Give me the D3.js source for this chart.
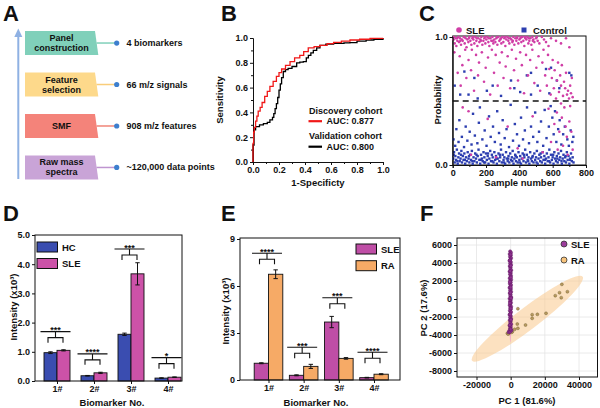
<!DOCTYPE html>
<html><head><meta charset="utf-8">
<script src="https://cdn.jsdelivr.net/npm/d3@7"></script>
<style>
body{margin:0;background:#fff}
svg{display:block;font-family:"Liberation Sans",Arial,Helvetica,sans-serif;font-weight:bold}
</style>
</head><body>
<svg id="c" width="600" height="408"></svg>
<script>
// ---------------- DATA ----------------
// Panel A
const flowLines = [["Panel","construction"],["Feature","selection"],["SMF"],["Raw mass","spectra"]];
const flowResults = ["4 biomarkers","66 m/z signals","908 m/z features","~120,000 data points"];

// Panel B (ROC curves)
const rocDiscFpr = [0,0,0.005,0.01,0.02,0.03,0.04,0.055,0.07,0.09,0.11,0.13,0.155,0.18,0.2,0.22,0.25,0.285,0.32,0.36,0.39,0.425,0.47,0.515,0.57,0.62,0.68,0.746,0.82,0.9,1];
const rocDiscTpr = [0,0.15,0.24,0.28,0.33,0.37,0.41,0.44,0.48,0.53,0.57,0.61,0.65,0.69,0.72,0.75,0.78,0.81,0.84,0.86,0.89,0.92,0.93,0.94,0.955,0.965,0.975,0.984,0.99,0.997,1];
const rocValFpr = [0,0,0.008,0.02,0.05,0.08,0.11,0.13,0.15,0.16,0.17,0.18,0.19,0.2,0.21,0.22,0.233,0.25,0.27,0.3,0.336,0.36,0.387,0.41,0.426,0.445,0.464,0.49,0.515,0.56,0.62,0.7,0.746,0.8,0.87,0.93,1];
const rocValTpr = [0,0.137,0.26,0.285,0.3,0.31,0.32,0.34,0.36,0.39,0.43,0.47,0.52,0.58,0.63,0.68,0.73,0.745,0.755,0.77,0.8,0.805,0.81,0.84,0.86,0.88,0.9,0.92,0.94,0.95,0.957,0.96,0.962,0.975,0.984,0.99,1];
const rocLegend = [["Discovery cohort","AUC: 0.877"],["Validation cohort","AUC: 0.800"]];

// Panel C (sample number, probability)
const cSle = [[5,.98],[12,.95],[18,.99],[22,.93],[28,.97],[33,1.0],[38,.96],[44,.99],[50,.94],[55,.98],[60,.97],[66,1.0],[72,.95],[78,.99],[83,.92],[88,.98],[94,.96],[100,1.0],[106,.97],[112,.94],[118,.99],[124,.98],[130,.95],[136,1.0],[142,.97],[148,.93],[154,.99],[160,.96],[166,.98],[172,1.0],[178,.94],[184,.97],[190,.99],[196,.95],[202,.98],[208,1.0],[214,.96],[220,.93],[226,.99],[232,.97],[238,1.0],[244,.95],[250,.98],[256,.96],[262,.99],[268,.94],[274,1.0],[280,.97],[286,.98],[292,.95],[298,1.0],[304,.96],[310,.99],[316,.93],[322,.98],[328,1.0],[334,.97],[340,.95],[346,.99],[352,.98],[358,.96],[364,1.0],[370,.94],[376,.99],[382,.97],[388,1.0],[394,.95],[400,.98],[406,.99],[412,.96],[418,1.0],[424,.97],[430,.93],[436,.99],[442,.98],[448,1.0],[454,.95],[460,.97],[466,.99],[472,.94],[478,1.0],[484,.98],[490,.96],[500,.99],[510,.97],[520,.95],[535,1.0],[548,.98],[560,.96],[575,.93],[590,.99],[620,.97],[650,.95],[680,.99],[700,.92],
[8,1.0],[25,.99],[46,.97],[70,1.0],[97,.99],[121,1.0],[145,.99],[169,.97],[193,1.0],[217,.99],[241,.97],[265,1.0],[289,.99],[313,1.0],[337,.99],[361,.97],[385,.99],[409,1.0],[433,1.0],[457,.99],[481,.97],[505,1.0],
[10,.88],[30,.72],[42,.85],[48,.62],[58,.78],[75,.9],[82,.68],[95,.82],[110,.74],[115,.9],[128,.58],[140,.86],[152,.7],[158,.8],[175,.88],[188,.65],[198,.76],[212,.84],[225,.55],[235,.9],[248,.72],[258,.86],[270,.62],[282,.8],[295,.88],[305,.68],[318,.77],[330,.85],[345,.6],[355,.9],[368,.74],[380,.83],[392,.66],[405,.88],[415,.78],[428,.56],[440,.86],[452,.7],[465,.82],[478,.9],[490,.64],[502,.76],[515,.85],[525,.58],[538,.8],[545,.9],[555,.7],[565,.62],[572,.86],[580,.75],[588,.55],[595,.68],[600,.82],[607,.6],[612,.74],[620,.52],[626,.66],[632,.8],[638,.57],[645,.7],[650,.62],[655,.78],[662,.54],[668,.65],[675,.6],[680,.72],[686,.55],[692,.58],[698,.52],[705,.62],[710,.56],[715,.68],[720,.53],
[60,.45],[95,.42],[110,.08],[210,.36],[260,.06],[330,.3],[390,.13],[420,.05],[480,.38],[540,.1],[575,.44],[590,.18],[610,.32],[625,.41],[640,.26],[655,.37],[662,.15],[670,.45],[678,.3],[685,.22],[690,.08],[700,.34],[705,.46],[712,.26],[720,.12],[650,.48],[630,.12]];
const cControl = [[3,.05],[8,.1],[12,.02],[16,.07],[20,.04],[25,.12],[30,.01],[34,.06],[38,.09],[42,.03],[47,.05],[52,.11],[56,.02],[61,.07],[65,.04],[70,.09],[75,.01],[80,.06],[85,.03],[90,.1],[95,.05],[100,.02],[105,.08],[110,.04],[115,.11],[120,.01],[125,.06],[130,.03],[135,.09],[140,.05],[145,.02],[150,.07],[155,.12],[160,.04],[165,.01],[170,.08],[175,.05],[180,.03],[185,.1],[190,.06],[195,.02],[200,.09],[205,.04],[210,.07],[215,.01],[220,.05],[225,.11],[230,.03],[235,.08],[240,.06],[245,.02],[250,.1],[255,.04],[260,.07],[265,.01],[270,.05],[275,.09],[280,.03],[285,.06],[290,.12],[295,.02],[300,.08],[305,.04],[310,.06],[315,.01],[320,.1],[325,.05],[330,.03],[335,.07],[340,.02],[345,.09],[350,.04],[355,.06],[360,.11],[365,.01],[370,.05],[375,.08],[380,.03],[385,.06],[390,.02],[395,.1],[400,.04],[405,.07],[410,.01],[415,.05],[420,.09],[425,.03],[430,.06],[435,.12],[440,.02],[445,.08],[450,.04],[455,.06],[460,.01],[465,.1],[470,.05],[475,.03],[480,.07],[485,.02],[490,.09],[495,.04],[500,.06],[505,.11],[510,.01],[515,.05],[520,.08],[525,.03],[530,.06],[535,.02],[540,.1],[545,.04],[550,.07],[555,.01],[560,.05],[565,.09],[570,.03],[575,.06],[580,.12],[585,.02],[590,.08],[595,.04],[600,.06],[605,.01],[610,.1],[615,.05],[620,.03],[625,.07],[630,.02],[635,.09],[640,.04],[645,.06],[650,.11],[655,.01],[660,.05],[665,.08],[670,.03],[675,.06],[680,.02],[685,.1],[690,.04],[695,.07],[700,.01],[705,.05],[710,.09],[715,.03],[720,.06],[725,.02],
[6,.08],[28,.03],[50,.08],[73,.04],[98,.07],[118,.03],[143,.08],[168,.04],[188,.02],[212,.09],[238,.03],[262,.05],[283,.08],[308,.02],[333,.05],[358,.03],[378,.07],[403,.02],[428,.08],[453,.03],[478,.06],[503,.02],[528,.09],[553,.04],[578,.03],[603,.08],[628,.05],[653,.03],[678,.07],[703,.04],
[5,.2],[15,.15],[22,.28],[35,.18],[40,.35],[55,.22],[68,.14],[78,.3],[88,.19],[102,.26],[113,.16],[122,.4],[133,.23],[148,.17],[157,.33],[163,.45],[178,.2],[192,.27],[203,.15],[218,.38],[228,.22],[242,.3],[253,.18],[267,.42],[278,.25],[288,.16],[300,.35],[312,.21],[323,.28],[338,.14],[348,.47],[362,.19],[373,.32],[386,.24],[398,.15],[410,.37],[422,.2],[433,.27],[446,.45],[458,.17],[470,.3],[483,.22],[495,.41],[508,.18],[518,.26],[530,.34],[543,.15],[552,.43],[563,.21],[577,.3],[588,.46],[598,.37],[606,.24],[614,.42],[622,.18],[633,.28],[642,.35],[652,.16],[663,.24],[673,.3],[688,.2],[697,.15],[708,.27],[718,.18],[724,.22],
[12,.62],[45,.55],[70,.73],[95,.55],[130,.68],[150,.52],[205,.58],[240,.62],[290,.54],[350,.66],[370,.6],[405,.57],[445,.7],[470,.55],[510,.62],[560,.75],[580,.56],[625,.66],[640,.6],[700,.72],[712,.7],[590,.76],[470,.72]];

// Panels D, E (bar charts)
const biomarkers = ["1#","2#","3#","4#"];
const dHC = [0.97,0.18,1.60,0.10], dHCerr = [0.03,0.01,0.04,0.01];
const dSLE = [1.05,0.28,3.67,0.13], dSLEerr = [0.02,0.02,0.38,0.01];
const dSigY = [1.69,0.93,4.52,0.80], dStars = ["***","****","***","*"];
const eSLE = [1.07,0.30,3.70,0.15], eSLEerr = [0.03,0.03,0.36,0.02];
const eRA = [6.75,0.87,1.38,0.37], eRAerr = [0.28,0.13,0.05,0.03];
const eSigY = [8.09,2.09,5.25,1.77], eStars = ["****","***","***","****"];
const dTicks = [0,1,2,3,4,5], eTicks = [0,3,6,9];

// Panel F (PCA)
const fSle = [[-300,5300],[200,5150],[-600,5000],[100,4850],[-400,4700],[300,4550],[-200,4400],[-700,4250],[150,4100],[-350,3950],[250,3800],[-550,3650],[0,3500],[-250,3350],[350,3200],[-650,3050],[100,2900],[-400,2750],[200,2600],[-150,2450],[-600,2300],[300,2150],[-300,2000],[50,1850],[-500,1700],[250,1550],[-200,1400],[-700,1250],[150,1100],[-350,950],[300,800],[-550,650],[0,500],[-250,350],[350,200],[-650,50],[100,-100],[-400,-250],[200,-400],[-150,-550],[-600,-700],[300,-850],[-300,-1000],[50,-1150],[-500,-1300],[250,-1450],[-200,-1600],[-700,-1750],[150,-1900],[-350,-2050],[300,-2200],[-550,-2350],[0,-2500],[-250,-2650],[350,-2800],[-650,-2950],[100,-3100],[-400,-3250],[200,-3400],[-900,-3550],[-1200,-3700],[-300,-3650],[400,-3500],[-100,4950],[-450,4300],[50,3700],[-300,3100],[150,2400],[-500,1900],[0,1300],[-200,700],[250,100],[-450,-450],[100,-1050],[-300,-1700],[200,-2300],[-550,-2900],[0,-3350]];
const fRA = [[29970,1630],[28600,700],[33200,810],[26100,370],[29600,150],[4230,-1080],[12580,-1740],[15650,-1700],[20700,-1590],[12580,-2150],[8700,-2890],[3880,-2780],[4230,-3260],[2320,-3370],[970,-3630],[-970,-3810],[-1900,-3810],[0,-3440],[-1500,-3900],[500,-3700]];
const fRAellipseEnds = [[-22600,-6860],[42150,2480]];
const fSleEllipseEnds = [[-200,5400],[-200,-4800]];
const fXTicks = [-20000,0,20000,40000];
const fYTicks = [-8000,-6000,-4000,-2000,0,2000,4000,6000];

// ---------------- DRAW ----------------
const svg = d3.select("#c");
const BLK = "#111";
function label(g,x,y,s,size,anchor,rot){
  const t = g.append("text").attr("x",x).attr("y",y).attr("font-size",size)
    .attr("text-anchor",anchor||"middle").attr("dominant-baseline","central").attr("fill",BLK).text(s);
  if(rot) t.attr("transform",`rotate(${rot},${x},${y})`);
  return t;
}
function styleAxis(g,fs){
  g.selectAll("path.domain").attr("stroke",BLK).attr("stroke-width",1);
  g.selectAll(".tick line").attr("stroke",BLK);
  g.selectAll(".tick text").attr("font-size",fs||9).attr("font-weight","bold").attr("fill",BLK)
   .attr("font-family",'"Liberation Sans",Arial,sans-serif');
}

// panel letters
[["A",3,13],["B",221,13],["C",419,13],["D",3,213],["E",221,213],["F",420,213]].forEach(([s,x,y])=>{
  label(svg,x,y,s,22,"start");
});

// ---- Panel A ----
{
  const g = svg.append("g");
  const fills = ["#80d0ba","#fdd98b","#f4837a","#c9a4d7"];
  const lines = ["#80d0ba","#f9cd7a","#f08478","#bf95d0"];
  const yA = d3.scaleBand().domain(d3.range(flowLines.length)).range([31,179.5]).paddingInner(0.42);
  const bw = yA.bandwidth();
  // arrow
  g.append("line").attr("x1",18.3).attr("x2",18.3).attr("y1",179).attr("y2",36)
    .attr("stroke","#8fb1e3").attr("stroke-width",2);
  g.append("path").attr("d","M14.3,37 L18.3,28.5 L22.3,37 Z").attr("fill","#8fb1e3");
  flowLines.forEach((ls,i)=>{
    const top = yA(i), bot = top+bw, cy = top+bw/2;
    g.append("path").attr("d",`M25,${top} L95,${top} L98.3,${bot} L25,${bot} Z`).attr("fill",fills[i]);
    ls.forEach((s,j)=> label(g,61.5,cy+(j-(ls.length-1)/2)*10,s,9));
    g.append("line").attr("x1",96.5).attr("x2",116.7).attr("y1",cy).attr("y2",cy)
      .attr("stroke",lines[i]).attr("stroke-width",1.5);
    g.append("circle").attr("cx",116.7).attr("cy",cy).attr("r",2.6).attr("fill","#3d7fce");
    label(g,126.5,cy,flowResults[i],9,"start");
  });
}

// ---- Panel B ----
{
  const g = svg.append("g");
  const x = d3.scaleLinear([0,1],[253,383]);
  const y = d3.scaleLinear([0,1],[162,38]);
  const fmt = d3.format(".1f");
  const ax = g.append("g").attr("transform","translate(0,162)")
    .call(d3.axisBottom(x).tickValues(d3.range(0,1.01,0.2)).tickFormat(fmt).tickSize(3).tickPadding(2));
  styleAxis(ax);
  const axm = g.append("g").attr("transform","translate(0,162)")
    .call(d3.axisBottom(x).tickValues(d3.range(0.1,1,0.2)).tickFormat("").tickSize(2));
  styleAxis(axm); axm.select("path.domain").remove();
  const ay = g.append("g").attr("transform","translate(253,0)")
    .call(d3.axisLeft(y).tickValues(d3.range(0,1.01,0.2)).tickFormat(fmt).tickSize(3).tickPadding(2));
  styleAxis(ay);
  const aym = g.append("g").attr("transform","translate(253,0)")
    .call(d3.axisLeft(y).tickValues(d3.range(0.1,1,0.2)).tickFormat("").tickSize(2));
  styleAxis(aym); aym.select("path.domain").remove();
  const line = d3.line().curve(d3.curveStepAfter).x(d=>x(d[0])).y(d=>y(d[1]));
  g.append("path").datum(rocValFpr.map((f,i)=>[f,rocValTpr[i]])).attr("d",line)
    .attr("fill","none").attr("stroke","#000").attr("stroke-width",1.3);
  g.append("path").datum(rocDiscFpr.map((f,i)=>[f,rocDiscTpr[i]])).attr("d",line)
    .attr("fill","none").attr("stroke","#f01818").attr("stroke-width",1.3);
  label(g,318,182.5,"1-Specificty",9.5);
  label(g,219.5,100,"Sensitivity",9.5,"middle",-90);
  const cols = ["#f01818","#000"];
  rocLegend.forEach(([a,b],i)=>{
    const y0 = 110.7 + i*25.5;
    label(g,309,y0,a,9,"start");
    g.append("line").attr("x1",308.5).attr("x2",322).attr("y1",y0+10.5).attr("y2",y0+10.5)
      .attr("stroke",cols[i]).attr("stroke-width",2.2);
    label(g,326.5,y0+10.5,b,9,"start");
  });
}

// ---- Panel C ----
{
  const g = svg.append("g");
  const x = d3.scaleLinear([0,800],[452.7,586]);
  const y = d3.scaleLinear([0,1],[165,37]);
  g.append("rect").attr("x",452.7).attr("y",36).attr("width",586-452.7).attr("height",129)
    .attr("fill","none").attr("stroke",BLK).attr("stroke-width",1);
  g.append("g").selectAll("rect").data(cControl).join("rect")
    .attr("x",d=>x(d[0])-1.2).attr("y",d=>y(d[1])-1.2).attr("width",2.4).attr("height",2.4)
    .attr("fill","#2c3eb0");
  g.append("g").selectAll("circle").data(cSle).join("circle")
    .attr("cx",d=>x(d[0])).attr("cy",d=>y(d[1])).attr("r",1.3).attr("fill","#d03ea6");
  g.append("line").attr("x1",452.7).attr("x2",586).attr("y1",y(0.5)).attr("y2",y(0.5))
    .attr("stroke","#111").attr("stroke-width",1.6).attr("stroke-dasharray","6,4");
  const ax = g.append("g").attr("transform","translate(0,165)")
    .call(d3.axisBottom(x).tickValues([0,200,400,600,800]).tickSize(3).tickPadding(2));
  styleAxis(ax);
  const axm = g.append("g").attr("transform","translate(0,165)")
    .call(d3.axisBottom(x).tickValues([100,300,500,700]).tickFormat("").tickSize(2));
  styleAxis(axm); axm.select("path.domain").remove();
  const ay = g.append("g").attr("transform","translate(452.7,0)")
    .call(d3.axisLeft(y).tickValues([0,1]).tickFormat(d3.format(".1f")).tickSize(3).tickPadding(2));
  styleAxis(ay);
  label(g,520,182.5,"Sample number",9.5);
  label(g,437,100,"Probability",9.5,"middle",-90);
  g.append("circle").attr("cx",459).attr("cy",30).attr("r",2.8).attr("fill","#d03ea6");
  label(g,466,30,"SLE",9.5,"start");
  g.append("rect").attr("x",521.5).attr("y",27.5).attr("width",5).attr("height",5).attr("fill","#2c3eb0");
  label(g,533,30,"Control",9.5,"start");
}

// ---- Bar panels D & E ----
function drawBars(o){
  const g = svg.append("g");
  const x = d3.scalePoint(biomarkers,o.xr);
  const y = d3.scaleLinear(o.ydom,[o.bottom,o.ytop]);
  biomarkers.forEach((c,i)=>{
    const cx = x(c);
    [[o.v1,o.e1,o.c1,-1],[o.v2,o.e2,o.c2,0]].forEach(([v,e,col,off])=>{
      const x0 = cx+off*o.bw;
      g.append("rect").attr("x",x0).attr("y",y(v[i])).attr("width",o.bw).attr("height",y(0)-y(v[i]))
        .attr("fill",col).attr("stroke",BLK).attr("stroke-width",0.9);
      const ex = x0+o.bw/2;
      g.append("path").attr("d",`M${ex},${y(v[i]+e[i])}V${y(v[i]-e[i])}M${ex-2.2},${y(v[i]+e[i])}H${ex+2.2}M${ex-2.2},${y(v[i]-e[i])}H${ex+2.2}`)
        .attr("stroke",BLK).attr("stroke-width",1).attr("fill","none");
    });
    const sy = y(o.sig[i]), bx = cx-1.5;
    g.append("path").attr("d",`M${bx-15},${sy}H${bx+15}M${bx},${sy}V${sy+6}M${bx-7.5},${sy+11}V${sy+6}H${bx+7.5}V${sy+11}`)
      .attr("stroke",BLK).attr("stroke-width",1.1).attr("fill","none");
    g.append("text").attr("x",bx).attr("y",sy+1.5).attr("text-anchor","middle").attr("font-size",9)
      .attr("fill",BLK).text(o.stars[i]);
  });
  g.append("rect").attr("x",o.left).attr("y",o.top).attr("width",o.right-o.left).attr("height",o.bottom-o.top)
    .attr("fill","none").attr("stroke",BLK).attr("stroke-width",1);
  const ax = g.append("g").attr("transform",`translate(0,${o.bottom})`)
    .call(d3.axisBottom(x).tickSize(3).tickPadding(2));
  styleAxis(ax); ax.select("path.domain").remove();
  const ay = g.append("g").attr("transform",`translate(${o.left},0)`)
    .call(d3.axisLeft(y).tickValues(o.ticks).tickSize(3).tickPadding(2));
  styleAxis(ay); ay.select("path.domain").remove();
  label(g,o.xtx,402,"Biomarker No.",9.5);
  label(g,o.ytx,o.yty,"Intensity (x10³)",9.5,"middle",-90);
  o.legend.forEach((s,i)=>{
    const ly = o.ly+i*o.lstep;
    g.append("rect").attr("x",o.lx).attr("y",ly).attr("width",20.5).attr("height",10)
      .attr("fill",i?o.c2:o.c1).attr("stroke",BLK).attr("stroke-width",1);
    label(g,o.lx+25,ly+5,s,9.5,"start");
  });
}
drawBars({xr:[57,168],bw:13,ydom:[0,5],ytop:235,bottom:381,left:35,right:182,top:235,
  v1:dHC,e1:dHCerr,v2:dSLE,e2:dSLEerr,c1:"#3a4db0",c2:"#cc52a8",sig:dSigY,stars:dStars,ticks:dTicks,
  xtx:112,ytx:13,yty:307,legend:["HC","SLE"],lx:37,ly:242,lstep:16.5});
drawBars({xr:[268.5,374],bw:14.3,ydom:[0,9],ytop:239,bottom:380,left:240,right:400,top:238,
  v1:eSLE,e1:eSLEerr,v2:eRA,e2:eRAerr,c1:"#bf4ea6",c2:"#f6aa66",sig:eSigY,stars:eStars,ticks:eTicks,
  xtx:316,ytx:225,yty:311,legend:["SLE","RA"],lx:356,ly:244,lstep:16.7});

// ---- Panel F ----
{
  const g = svg.append("g");
  const x = d3.scaleLinear([-20000,40000],[476.5,579]);
  const y = d3.scaleLinear([-8000,6000],[371,245]);
  const L=457,R=597.5,T=238,B=377;
  g.append("g").selectAll("line.v").data(fXTicks).join("line").attr("x1",d=>x(d)).attr("x2",d=>x(d))
    .attr("y1",T).attr("y2",B).attr("stroke","#e4e4e4").attr("stroke-width",0.8);
  g.append("g").selectAll("line.h").data(fYTicks).join("line").attr("y1",d=>y(d)).attr("y2",d=>y(d))
    .attr("x1",L).attr("x2",R).attr("stroke","#e4e4e4").attr("stroke-width",0.8);
  // RA ellipse
  const ell = (ends,ry,fill,op)=>{
    const p1=[x(ends[0][0]),y(ends[0][1])], p2=[x(ends[1][0]),y(ends[1][1])];
    const cx=(p1[0]+p2[0])/2, cy=(p1[1]+p2[1])/2;
    const rx=Math.hypot(p2[0]-p1[0],p2[1]-p1[1])/2;
    const ang=Math.atan2(p2[1]-p1[1],p2[0]-p1[0])*180/Math.PI;
    g.append("ellipse").attr("cx",cx).attr("cy",cy).attr("rx",rx).attr("ry",ry)
      .attr("transform",`rotate(${ang},${cx},${cy})`).attr("fill",fill).attr("opacity",op);
  };
  ell(fRAellipseEnds,11,"#f9c98c",0.55);
  ell(fSleEllipseEnds,1.1,"#f59ccb",0.9);
  g.append("g").selectAll("circle").data(fRA).join("circle")
    .attr("cx",d=>x(d[0])).attr("cy",d=>y(d[1])).attr("r",1.5)
    .attr("fill","#b89a5e").attr("stroke","#6d5a33").attr("stroke-width",0.4);
  g.append("g").selectAll("circle").data(fSle).join("circle")
    .attr("cx",d=>x(d[0])).attr("cy",d=>y(d[1])).attr("r",1.6)
    .attr("fill","#8e2f8f").attr("stroke","#5a1a5c").attr("stroke-width",0.4);
  g.append("rect").attr("x",L).attr("y",T).attr("width",R-L).attr("height",B-T)
    .attr("fill","none").attr("stroke",BLK).attr("stroke-width",1);
  const ax = g.append("g").attr("transform",`translate(0,${B})`)
    .call(d3.axisBottom(x).tickValues(fXTicks).tickFormat(d3.format("d")).tickSize(3).tickPadding(2));
  styleAxis(ax); ax.select("path.domain").remove();
  const ay = g.append("g").attr("transform",`translate(${L},0)`)
    .call(d3.axisLeft(y).tickValues(fYTicks).tickFormat(d3.format("d")).tickSize(3).tickPadding(2));
  styleAxis(ay); ay.select("path.domain").remove();
  g.selectAll(".tick text").text(function(){return this.textContent.replace("−","-");});
  label(g,527,400,"PC 1 (81.6%)",9.5);
  label(g,423.5,308,"PC 2 (17.6%)",9.5,"middle",-90);
  g.append("circle").attr("cx",564).attr("cy",244).attr("r",3).attr("fill","#9b3c9b").attr("stroke","#333").attr("stroke-width",0.8);
  label(g,571,244,"SLE",9.5,"start");
  g.append("circle").attr("cx",564).attr("cy",260).attr("r",3).attr("fill","#f8c47c").attr("stroke","#333").attr("stroke-width",0.8);
  label(g,571,260,"RA",9.5,"start");
}
</script>
</body></html>
